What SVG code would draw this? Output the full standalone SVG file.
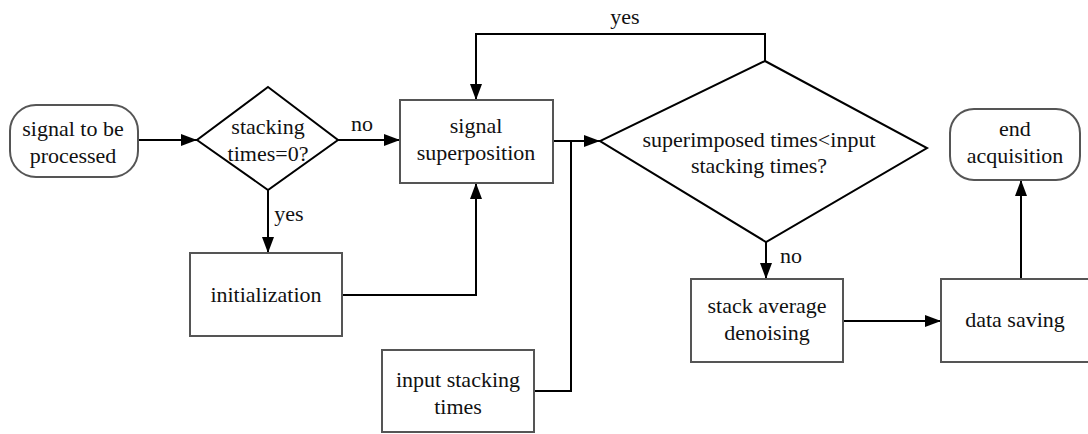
<svg xmlns="http://www.w3.org/2000/svg" width="1088" height="434" viewBox="0 0 1088 434">
<style>
.box{fill:#fff;stroke:#555;stroke-width:2}
.dia{fill:#fff;stroke:#000;stroke-width:2}
.t{font-family:'Liberation Serif','DejaVu Serif','Times New Roman',serif;font-size:22px;fill:#111;text-anchor:middle}
.c{fill:none;stroke:#000;stroke-width:2}
</style>
<defs>
<marker id="ah" viewBox="0 0 16 12" refX="16" refY="6" markerWidth="16" markerHeight="12" markerUnits="userSpaceOnUse" orient="auto">
<path d="M0,0 L16,6 L0,12 Z" fill="#000"/>
</marker>
</defs>
<rect width="1088" height="434" fill="#fff"/>
<g id="connectors">
<path class="c" d="M138,140 H197" marker-end="url(#ah)"/>
<path class="c" d="M338,140 H400" marker-end="url(#ah)"/>
<path class="c" d="M268,190 V253" marker-end="url(#ah)"/>
<path class="c" d="M342,295 H476 V183" marker-end="url(#ah)"/>
<path class="c" d="M553,141 H600" marker-end="url(#ah)"/>
<path class="c" d="M534,391 H571 V141"/>
<path class="c" d="M765,61 V34 H476 V100" marker-end="url(#ah)"/>
<path class="c" d="M766,242 V279" marker-end="url(#ah)"/>
<path class="c" d="M843,321 H941" marker-end="url(#ah)"/>
<path class="c" d="M1021,279 V180" marker-end="url(#ah)"/>
<text class="t" x="362" y="131">no</text>
<text class="t" x="289" y="221">yes</text>
<text class="t" x="625" y="24">yes</text>
<text class="t" x="791" y="263">no</text>
</g>
<g id="start">
<rect class="box" x="10" y="105" width="128" height="72" rx="26"/>
<text class="t" x="73" y="136">signal to be</text>
<text class="t" x="73" y="163">processed</text>
</g>
<g id="decision1">
<polygon class="dia" points="268,87 338,140 268,190 197,140"/>
<text class="t" x="268" y="134">stacking</text>
<text class="t" x="268" y="161">times=0?</text>
</g>
<g id="superposition">
<rect class="box" x="400" y="100" width="153" height="83"/>
<text class="t" x="476" y="133">signal</text>
<text class="t" x="476" y="160">superposition</text>
</g>
<g id="initialization">
<rect class="box" x="190" y="253" width="152" height="83"/>
<text class="t" x="266" y="302">initialization</text>
</g>
<g id="input">
<rect class="box" x="382" y="350" width="152" height="82"/>
<text class="t" x="458" y="387">input stacking</text>
<text class="t" x="458" y="414">times</text>
</g>
<g id="decision2">
<polygon class="dia" points="765,61 927,148 766,242 600,141"/>
<text class="t" x="759" y="147">superimposed times&lt;input</text>
<text class="t" x="759" y="173">stacking times?</text>
</g>
<g id="denoise">
<rect class="box" x="691" y="279" width="152" height="83"/>
<text class="t" x="767" y="313">stack average</text>
<text class="t" x="767" y="340">denoising</text>
</g>
<g id="saving">
<rect class="box" x="941" y="279" width="150" height="83"/>
<text class="t" x="1015" y="327">data saving</text>
</g>
<g id="end">
<rect class="box" x="950" y="109" width="130" height="71" rx="24"/>
<text class="t" x="1015" y="136">end</text>
<text class="t" x="1015" y="163">acquisition</text>
</g>
</svg>
